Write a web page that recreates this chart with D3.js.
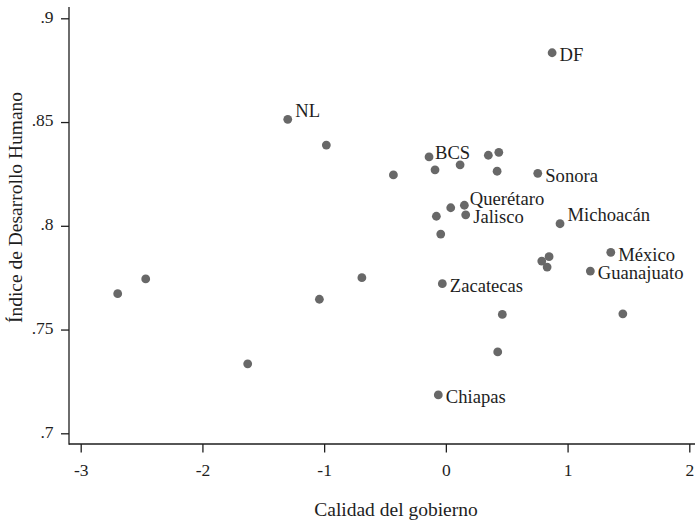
<!DOCTYPE html>
<html lang="es">
<head>
<meta charset="utf-8">
<title>Calidad del gobierno e IDH</title>
<script src="https://cdn.jsdelivr.net/npm/d3@7/dist/d3.min.js"></script>
<style>
  html, body { margin: 0; padding: 0; background: #fff; }
  svg { display: block; }
  text { font-family: "Liberation Serif", "Times New Roman", serif; fill: #1e1e1e; }
</style>
</head>
<body>
<svg id="chart" width="696" height="520"></svg>
<script>
// Entidades federativas: calidad del gobierno vs. Índice de Desarrollo Humano
const estados = ["", "", "", "", "", "NL", "", "", "BCS", "", "", "", "", "Querétaro", "Jalisco", "",
                 "", "", "", "Sonora", "Michoacán", "", "", "", "México", "Guanajuato", "Zacatecas", "",
                 "", "", "Chiapas", "DF"];
const calidad = [-2.696, -2.466, -1.628, -1.039, -0.690, -1.299, -0.982, -0.431, -0.138, -0.089, 0.117, -0.078,
                 0.040, 0.152, 0.163, -0.042, 0.349, 0.435, 0.421, 0.755, 0.938, 0.788, 0.848, 0.832,
                 1.355, 1.187, -0.029, 0.464, 1.454, 0.426, -0.062, 0.873];
const idh = [0.7673, 0.7744, 0.7335, 0.7646, 0.7750, 0.8513, 0.8389, 0.8245, 0.8332, 0.8270, 0.8294, 0.8046,
             0.8087, 0.8099, 0.8053, 0.7960, 0.8340, 0.8354, 0.8263, 0.8253, 0.8010, 0.7830, 0.7851, 0.7801,
             0.7872, 0.7782, 0.7721, 0.7573, 0.7576, 0.7392, 0.7185, 0.8834];
const xTicks = [-3, -2, -1, 0, 1, 2];
const xTickLabels = ["-3", "-2", "-1", "0", "1", "2"];
const yTicks = [0.7, 0.75, 0.8, 0.85, 0.9];
const yTickLabels = [".7", ".75", ".8", ".85", ".9"];
const xTitle = "Calidad del gobierno";
const yTitle = "Índice de Desarrollo Humano";

const svg = d3.select("#chart");

// plot frame (axis lines) and the data-to-pixel mapping
const frame = { left: 69, right: 695, top: 7, bottom: 444 };
const x = d3.scaleLinear().domain([-3, 2]).range([80.7, 689.3]);
const y = d3.scaleLinear().domain([0.7, 0.9]).range([433.3, 18.3]);

const ink = "#1e1e1e";

// x axis
const xAxis = d3.axisBottom(x)
  .tickValues(xTicks)
  .tickFormat((d, i) => xTickLabels[i])
  .tickSize(8.5)
  .tickSizeOuter(0);
const gx = svg.append("g").attr("transform", `translate(0,${frame.bottom})`).call(xAxis);
gx.select(".domain").remove();
gx.selectAll(".tick line").attr("stroke", ink).attr("stroke-width", 1.3);
gx.selectAll(".tick text")
  .attr("y", 32).attr("dy", null)
  .attr("font-size", 17.5)
  .attr("font-family", "Liberation Serif, serif")
  .attr("fill", ink);

// y axis
const yAxis = d3.axisLeft(y)
  .tickValues(yTicks)
  .tickFormat((d, i) => yTickLabels[i])
  .tickSize(8)
  .tickSizeOuter(0);
const gy = svg.append("g").attr("transform", `translate(${frame.left},0)`).call(yAxis);
gy.select(".domain").remove();
gy.selectAll(".tick line").attr("stroke", ink).attr("stroke-width", 1.3);
gy.selectAll(".tick text")
  .attr("x", -15.5).attr("dy", null).attr("y", 3.8)
  .attr("font-size", 17.5)
  .attr("font-family", "Liberation Serif, serif")
  .attr("fill", ink);

// axis lines
svg.append("line")
  .attr("x1", frame.left).attr("x2", frame.right)
  .attr("y1", frame.bottom).attr("y2", frame.bottom)
  .attr("stroke", ink).attr("stroke-width", 1.3);
svg.append("line")
  .attr("x1", frame.left).attr("x2", frame.left)
  .attr("y1", frame.top).attr("y2", frame.bottom + 0.65)
  .attr("stroke", ink).attr("stroke-width", 1.3);

// axis titles
svg.append("text")
  .attr("x", (frame.left + frame.right) / 2 + 14).attr("y", 516)
  .attr("text-anchor", "middle")
  .attr("font-size", 19.5)
  .text(xTitle);
svg.append("text")
  .attr("transform", `translate(22,207.5) rotate(-90)`)
  .attr("text-anchor", "middle")
  .attr("font-size", 19.5)
  .text(yTitle);

// points
const rows = calidad.map((c, i) => ({ nombre: estados[i], x: c, y: idh[i] }));

svg.append("g").selectAll("circle")
  .data(rows)
  .join("circle")
  .attr("cx", d => x(d.x))
  .attr("cy", d => y(d.y))
  .attr("r", 4.4)
  .attr("fill", "#686868");

// marker labels: default to the right of the marker; a few sit higher up
const labelShift = { NL: [7.5, -2], BCS: [6, 2.3], "Querétaro": [5.5, 0.2], "Michoacán": [7.5, -2.4] };
svg.append("g").selectAll("text")
  .data(rows.filter(d => d.nombre))
  .join("text")
  .attr("x", d => x(d.x) + (labelShift[d.nombre] || [7.5, 8.2])[0])
  .attr("y", d => y(d.y) + (labelShift[d.nombre] || [7.5, 8.2])[1])
  .attr("font-size", 18.6)
  .text(d => d.nombre);
</script>
</body>
</html>
